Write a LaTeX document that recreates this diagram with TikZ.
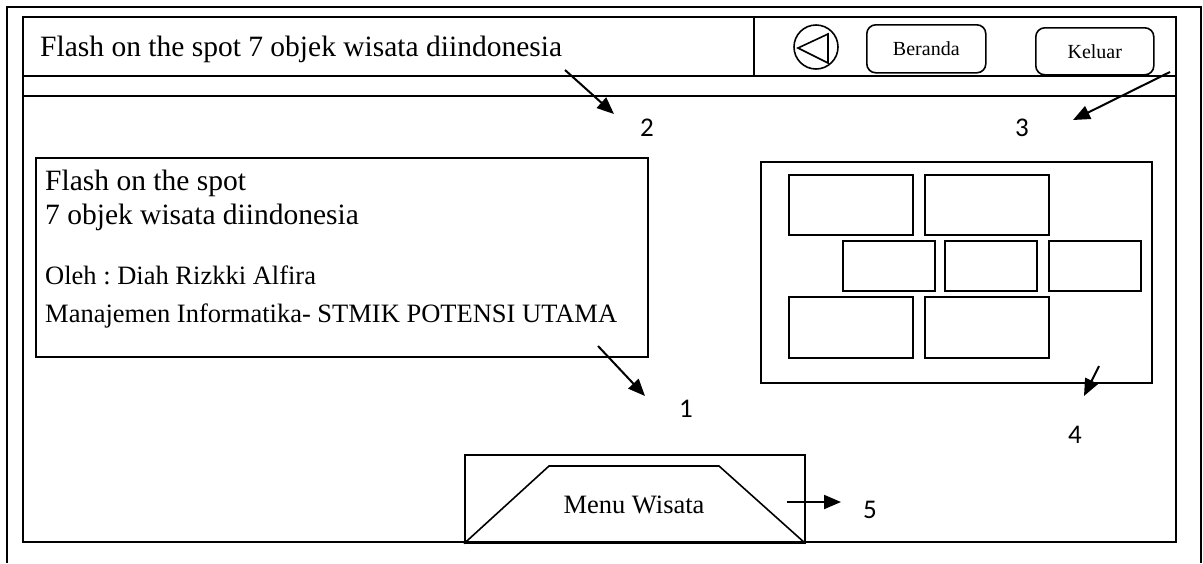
\documentclass[tikz,border=0pt]{standalone}
\usepackage{fontspec}
\setmainfont{Liberation Serif}
\newfontfamily\labfont{Carlito}
\usetikzlibrary{arrows.meta}
\frenchspacing
\begin{document}
\begin{tikzpicture}[x=1pt,y=-1pt,
  frame/.style={line width=2.2pt},
  box/.style={draw,line width=1.6pt,inner sep=0pt,anchor=north west},
  ptr/.style={line width=2pt,-{Triangle[length=17pt,width=14pt]}},
  lab/.style={font=\labfont\fontsize{27}{30}\selectfont,inner sep=0pt},
  big/.style={font=\fontsize{29.5}{34}\selectfont,inner sep=0pt,anchor=base west},
  small/.style={font=\fontsize{26.5}{30}\selectfont,inner sep=0pt,anchor=base west},
  btn/.style={draw,line width=1.6pt,rounded corners=9pt,inner sep=0pt,anchor=north west,font=\fontsize{20}{24}\selectfont}
]
\useasboundingbox (0,0) rectangle (1203,563);
% outer frame (open at bottom)
\draw[line width=1.8pt] (7,563) -- (7,7) -- (1201,7) -- (1201,563);
% inner frame
\draw[frame] (23,17) rectangle (1176,542);
\draw[frame] (23,76) -- (1176,76);
\draw[frame] (23,96) -- (1176,96);
\draw[line width=1.6pt] (754,17) -- (754,76);
% header
\node[big] (title) at (40,56) {Flash on the spot 7 objek wisata diindonesia};
\node[draw,circle,line width=1.6pt,minimum size=44pt,inner sep=0pt] (back) at (816,47) {};
\draw[line width=1.6pt] (798,48) -- (828,34) -- (828,63) -- cycle;
\node[btn,minimum width=119pt,minimum height=48pt] (ber) at (866,24) {Beranda};
\node[btn,minimum width=118pt,minimum height=47pt] (kel) at (1035,27) {Keluar};
% box 1
\node[box,minimum width=612pt,minimum height=199pt] (info) at (35,157) {};
\node[big] (l1) at (45,190) {Flash on the spot};
\node[big] (l2) at (45,224) {7 objek wisata diindonesia};
\node[small] (l3) at (45,284) {Oleh : Diah Rizkki Alfira};
\node[small] (l4) at (45,322) {Manajemen Informatika- STMIK POTENSI UTAMA};
% box 4 gallery
\node[box,minimum width=391pt,minimum height=221pt] (gal) at (760,161) {};
\node[box,minimum width=124pt,minimum height=60pt] (r1a) at (788,174) {};
\node[box,minimum width=124pt,minimum height=60pt] (r1b) at (924,174) {};
\node[box,minimum width=92pt,minimum height=50pt] (r2a) at (842,240) {};
\node[box,minimum width=92pt,minimum height=50pt] (r2b) at (944,240) {};
\node[box,minimum width=92pt,minimum height=50pt] (r2c) at (1048,240) {};
\node[box,minimum width=124pt,minimum height=61pt] (r3a) at (788,296) {};
\node[box,minimum width=124pt,minimum height=61pt] (r3b) at (924,296) {};
% menu button
\node[box,minimum width=340pt,minimum height=88pt] (menu) at (464,454) {};
\draw[line width=1.6pt] (menu.south west) -- (549,466) -- (719,466) -- (menu.south east);
\node[font=\fontsize{26.5}{30}\selectfont,inner sep=0pt] (mtext) at (634,505) {Menu Wisata};
% labels
\node[lab] (n1) at (686,409) {1};
\node[lab] (n2) at (647,128) {2};
\node[lab] (n3) at (1022,128) {3};
\node[lab] (n4) at (1075,435) {4};
\node[lab] (n5) at (870,510) {5};
% arrow ends
\coordinate (s1) at (598,346); \coordinate (e1) at (645,396);
\coordinate (s2) at (565,70);  \coordinate (e2) at (614,114);
\coordinate (s3) at (1170,72); \coordinate (e3) at (1073,120);
\coordinate (s4) at (1099,366); \coordinate (e4) at (1084,396);
\coordinate (s5) at (787,502); \coordinate (e5) at (841,502);
\draw[ptr] (s1) -- (e1);
\draw[ptr] (s2) -- (e2);
\draw[ptr] (s3) -- (e3);
\draw[ptr] (s4) -- (e4);
\draw[ptr] (s5) -- (e5);
\end{tikzpicture}
\end{document}
